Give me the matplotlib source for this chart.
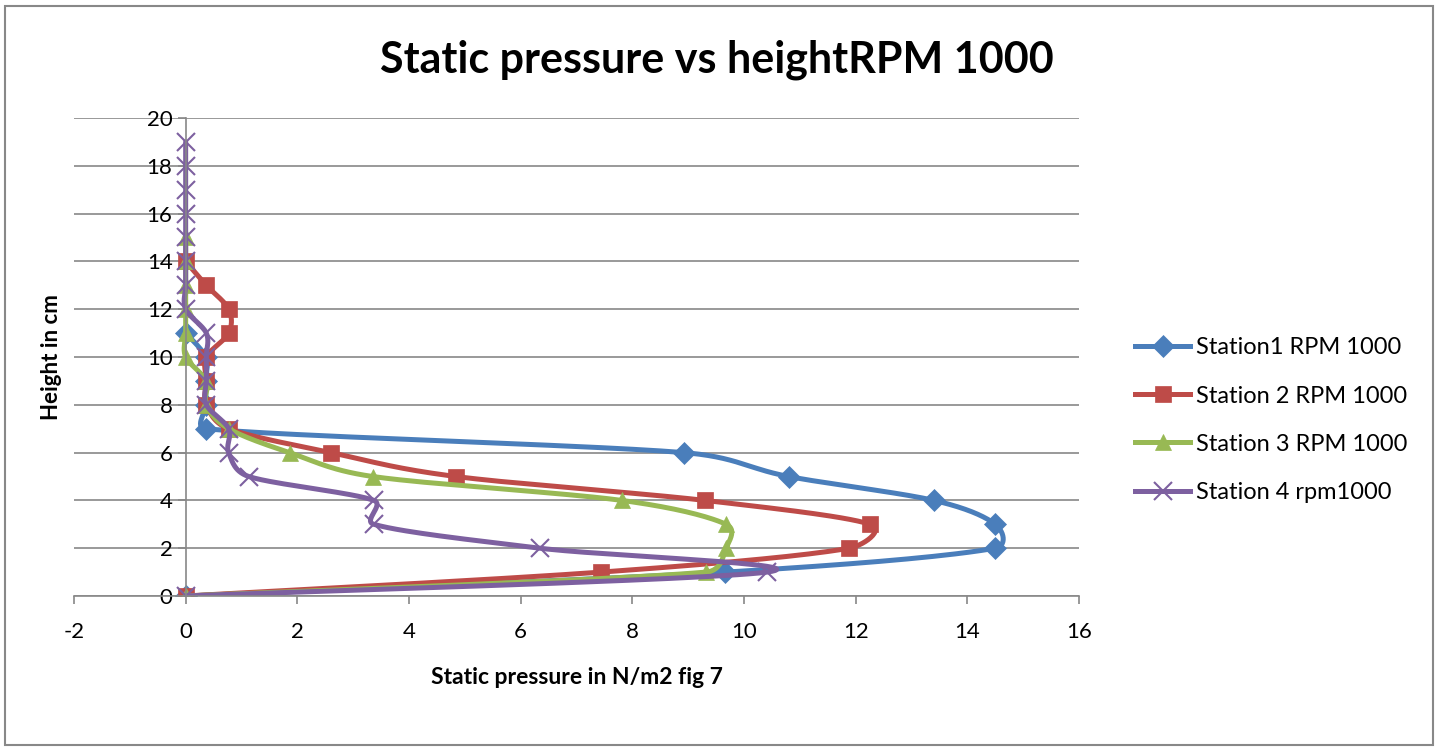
import numpy as np
import matplotlib.pyplot as plt
from matplotlib.patches import Rectangle

plt.rcParams['font.family'] = ['Lato', 'DejaVu Sans']
plt.rcParams['axes.unicode_minus'] = False

# readings from the chart: height (cm) vs static pressure (N/m2)
h1 = [0, 1, 2, 3, 4, 5, 6, 7, 8, 9, 10, 11]
p1 = [0, 9.66, 14.5, 14.5, 13.4, 10.8, 8.92, 0.36, 0.36, 0.36, 0.36, 0]

h2 = [0, 1, 2, 3, 4, 5, 6, 7, 8, 9, 10, 11, 12, 13, 14]
p2 = [0, 7.44, 11.88, 12.26, 9.3, 4.84, 2.6, 0.77, 0.37, 0.37, 0.37, 0.77, 0.77, 0.37, 0]

h3 = [0, 1, 2, 3, 4, 5, 6, 7, 8, 9, 10, 11, 12, 13, 14, 15]
p3 = [0, 9.32, 9.68, 9.68, 7.81, 3.35, 1.86, 0.77, 0.37, 0.37, 0, 0, 0, 0, 0, 0]

h4 = list(range(20))
p4 = [0, 10.41, 6.34, 3.37, 3.37, 1.13, 0.77, 0.77, 0.37, 0.37, 0.37, 0.37,
      0, 0, 0, 0, 0, 0, 0, 0]

labels = ["Station1 RPM 1000", "Station 2 RPM 1000", "Station 3 RPM 1000", "Station 4 rpm1000"]
colors = ["#4A7EBB", "#BE4B48", "#98B954", "#7D60A0"]
markers = ["D", "s", "^", "x"]

# approx pixels per data unit, used so the smoothing behaves like on screen
SX, SY = 55.8, 23.9


def smooth(xs, ys, n=30, k=0.5):
    # excel-like smoothed line: catmull-rom bezier with control arms clamped
    pts = np.column_stack([np.array(xs) * SX, np.array(ys) * SY]).astype(float)
    m = len(pts)
    tang = np.zeros_like(pts)
    for i in range(m):
        a = pts[max(i - 1, 0)]
        b = pts[min(i + 1, m - 1)]
        tang[i] = (b - a) / 6
    out = []
    t = np.linspace(0, 1, n)[:, None]
    for i in range(m - 1):
        a, b = pts[i], pts[i + 1]
        seg_len = np.hypot(*(b - a))
        ta, tb = tang[i].copy(), tang[i + 1].copy()
        la, lb = np.hypot(*ta), np.hypot(*tb)
        if la > k * seg_len and la > 0:
            ta *= k * seg_len / la
        if lb > k * seg_len and lb > 0:
            tb *= k * seg_len / lb
        c1 = a + ta
        c2 = b - tb
        seg = ((1 - t) ** 3) * a + 3 * ((1 - t) ** 2) * t * c1 + 3 * (1 - t) * t ** 2 * c2 + t ** 3 * b
        out.append(seg)
    out = np.vstack(out)
    return out[:, 0] / SX, out[:, 1] / SY


fig = plt.figure(figsize=(14.38, 7.49), dpi=100)
fig.patches.append(Rectangle((5 / 1438, 4 / 749), 1428 / 1438, 739 / 749,
                             transform=fig.transFigure, fill=False,
                             edgecolor="#888888", linewidth=1.5))
ax = fig.add_axes([74 / 1438, 1 - 596 / 749, (1079 - 74) / 1438, (596 - 118) / 749])

for xs, ys, lab, col, mk in zip([p1, p2, p3, p4], [h1, h2, h3, h4], labels, colors, markers):
    sx, sy = smooth(xs, ys)
    ax.plot(sx, sy, color=col, lw=3.6, solid_capstyle='round')
    ms = 13 if mk == "x" else (11 if mk == "D" else 12)
    mew = 1.5 if mk == "x" else 0.5
    ax.plot(xs, ys, linestyle='none', marker=mk, color=col, ms=ms, markeredgewidth=mew)
    ax.plot([], [], color=col, lw=3.6, marker=mk, ms=ms, label=lab, markeredgewidth=mew)

ax.set_xlim(-2, 16)
ax.set_ylim(0, 20)
ax.set_xticks(np.arange(-2, 17, 2))
ax.set_yticks(np.arange(0, 21, 2))
ax.spines['left'].set_position(('data', 0))
ax.spines['top'].set_visible(False)
ax.spines['right'].set_visible(False)
for s in ['left', 'bottom']:
    ax.spines[s].set_color('#888888')
    ax.spines[s].set_linewidth(1.2)
ax.yaxis.grid(True, color='#888888', linewidth=1.2)
ax.set_axisbelow(True)
ax.tick_params(axis='both', colors='#888888', labelcolor='black', labelsize=16,
               length=6, width=1.2)
ax.tick_params(axis='x', pad=13)

ax.set_xlabel("Static pressure in N/m2 fig 7", fontsize=16.5, fontweight='bold')
ax.xaxis.set_label_coords(0.5, -0.148)
ax.set_ylabel("Height in cm", fontsize=16, fontweight='bold')
ax.yaxis.set_label_coords(-0.012, 0.5)

fig.text(717 / 1438, 1 - 60 / 749, "Static pressure vs heightRPM 1000", ha='center', va='center',
         fontsize=31, fontweight='bold')

leg = ax.legend(loc='center left', bbox_to_anchor=(1.035, 0.368), frameon=False, fontsize=17,
                handlelength=2.3, labelspacing=1.15, handletextpad=0.25)

fig.savefig("out.png", dpi=100)
